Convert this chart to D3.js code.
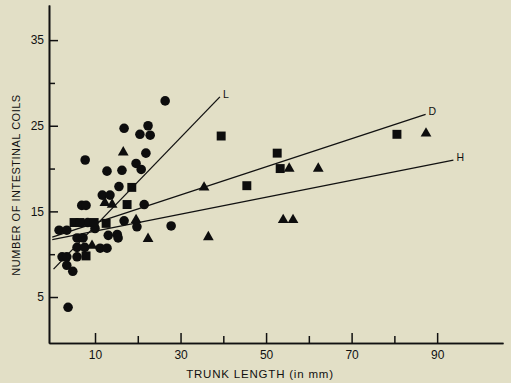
<!DOCTYPE html>
<html>
<head>
<meta charset="utf-8">
<script src="https://cdn.jsdelivr.net/npm/d3@7"></script>
<style>
  html, body { margin: 0; padding: 0; background: #e2dfc6; }
  svg { display: block; }
  text { font-family: "Liberation Sans", Arial, sans-serif; fill: #111; }
</style>
</head>
<body>
<div class="mySvg"></div>
<script>
// trunk length (mm) / number of intestinal coils, one pair of arrays per symbol
var circleX = [26.4, 16.8, 22.4, 20.5, 22.9, 21.9, 7.7, 19.6, 20.8, 12.8, 16.3, 15.6, 11.7, 13.5,
  21.5, 6.9, 7.9, 1.6, 3.4, 10.0, 16.8, 15.2, 13.1, 15.4, 19.8, 27.8, 5.8, 7.2, 5.8, 7.6,
  11.2, 12.8, 2.3, 3.4, 5.8, 3.4, 4.8, 3.7, 8.3];
var circleY = [27.9, 24.7, 25.0, 24.0, 23.9, 21.8, 21.0, 20.6, 19.9, 19.7, 19.8, 17.9, 16.9, 16.9,
  15.8, 15.7, 15.7, 12.8, 12.8, 13.0, 13.9, 12.3, 12.2, 11.9, 13.2, 13.3, 11.9, 11.9, 10.8, 10.8,
  10.7, 10.7, 9.7, 9.7, 9.7, 8.7, 8.0, 3.8, 13.7];

var squareX = [39.5, 52.6, 53.3, 45.5, 80.6, 18.6, 17.5, 12.6, 5.1, 6.5, 9.8, 7.9];
var squareY = [23.8, 21.8, 20.0, 18.0, 24.0, 17.8, 15.8, 13.6, 13.7, 13.7, 13.7, 9.8];

var triangleX = [16.6, 35.5, 55.4, 62.2, 87.4, 54.0, 56.3, 36.5, 22.4, 19.6, 12.3, 14.0, 9.3];
var triangleY = [21.9, 17.8, 20.0, 20.0, 24.1, 14.0, 14.0, 12.0, 11.8, 14.0, 16.0, 15.8, 11.0];

// fitted lines
var lineLabels = ['L', 'D', 'H'];
var lineIntercepts = [8.1, 12.0, 11.7];
var lineSlopes = [0.517, 0.164, 0.099];
var lineStartX = [0.3, 0, 0];
var lineEndX = [39.2, 87.3, 93.8];

var xMajorTicks = [10, 30, 50, 70, 90];
var xMinorTicks = [20, 40, 60, 80];
var yMajorTicks = [5, 15, 25, 35];
var yMinorTicks = [10, 20, 30];

var xTitle = 'TRUNK LENGTH (in mm)';
var yTitle = 'NUMBER OF INTESTINAL COILS';

var width = 511, height = 383;
var xScale = d3.scaleLinear().domain([-0.76, 105.4]).range([49, 503]);
var yScale = d3.scaleLinear().domain([-0.37, 39.1]).range([343, 5]);

var svg = d3.select('.mySvg').append('svg')
  .attr('width', width)
  .attr('height', height);

svg.append('rect').attr('width', width).attr('height', height).attr('fill', '#e2dfc6');

// axes, ticks point inward
var xAxisMajor = d3.axisBottom(xScale).tickValues(xMajorTicks).tickSizeInner(-10).tickSizeOuter(0).tickPadding(7);
var xAxisMinor = d3.axisBottom(xScale).tickValues(xMinorTicks).tickSizeInner(-7).tickSizeOuter(0).tickFormat('');
var yAxisMajor = d3.axisLeft(yScale).tickValues(yMajorTicks).tickSizeInner(-9).tickSizeOuter(0).tickPadding(5);
var yAxisMinor = d3.axisLeft(yScale).tickValues(yMinorTicks).tickSizeInner(-6).tickSizeOuter(0).tickFormat('');

var gx = svg.append('g').attr('transform', 'translate(0,343)');
gx.call(xAxisMajor);
gx.append('g').call(xAxisMinor);
var gy = svg.append('g').attr('transform', 'translate(49,0)');
gy.call(yAxisMajor);
gy.append('g').call(yAxisMinor);

svg.selectAll('.domain').attr('stroke', '#111').attr('stroke-width', 1.6);
svg.selectAll('.tick line').attr('stroke', '#111').attr('stroke-width', 1.5);
svg.selectAll('.tick text').attr('font-size', 12).attr('fill', '#111')
  .style('font-family', '"Liberation Sans", Arial, sans-serif');

svg.append('text')
  .attr('x', 260).attr('y', 378)
  .attr('text-anchor', 'middle')
  .attr('font-size', 11.5)
  .attr('letter-spacing', 0.8)
  .text(xTitle);

svg.append('text')
  .attr('transform', 'translate(20,185) rotate(-90)')
  .attr('text-anchor', 'middle')
  .attr('font-size', 11)
  .attr('letter-spacing', 0.5)
  .text(yTitle);

// regression lines with end labels
lineLabels.forEach(function(lab, i) {
  var ya = lineIntercepts[i] + lineSlopes[i] * lineStartX[i];
  var yb = lineIntercepts[i] + lineSlopes[i] * lineEndX[i];
  svg.append('line')
    .attr('x1', xScale(lineStartX[i])).attr('y1', yScale(ya))
    .attr('x2', xScale(lineEndX[i])).attr('y2', yScale(yb))
    .attr('stroke', '#111').attr('stroke-width', 1.3);
  svg.append('text')
    .attr('x', xScale(lineEndX[i]) + 3).attr('y', yScale(yb) + 1)
    .attr('font-size', 10.5)
    .text(lab);
});

function drawPoints(xs, ys, type, size) {
  var sym = d3.symbol().type(type).size(size);
  svg.append('g').selectAll('path')
    .data(xs.map(function(x, i) { return [x, ys[i]]; }))
    .enter()
    .append('path')
    .attr('d', sym)
    .attr('fill', '#0d0d0d')
    .attr('transform', function(d) { return 'translate(' + xScale(d[0]) + ',' + yScale(d[1]) + ')'; });
}

drawPoints(circleX, circleY, d3.symbolCircle, 72);
drawPoints(squareX, squareY, d3.symbolSquare, 80);
drawPoints(triangleX, triangleY, d3.symbolTriangle, 50);
</script>
</body>
</html>
